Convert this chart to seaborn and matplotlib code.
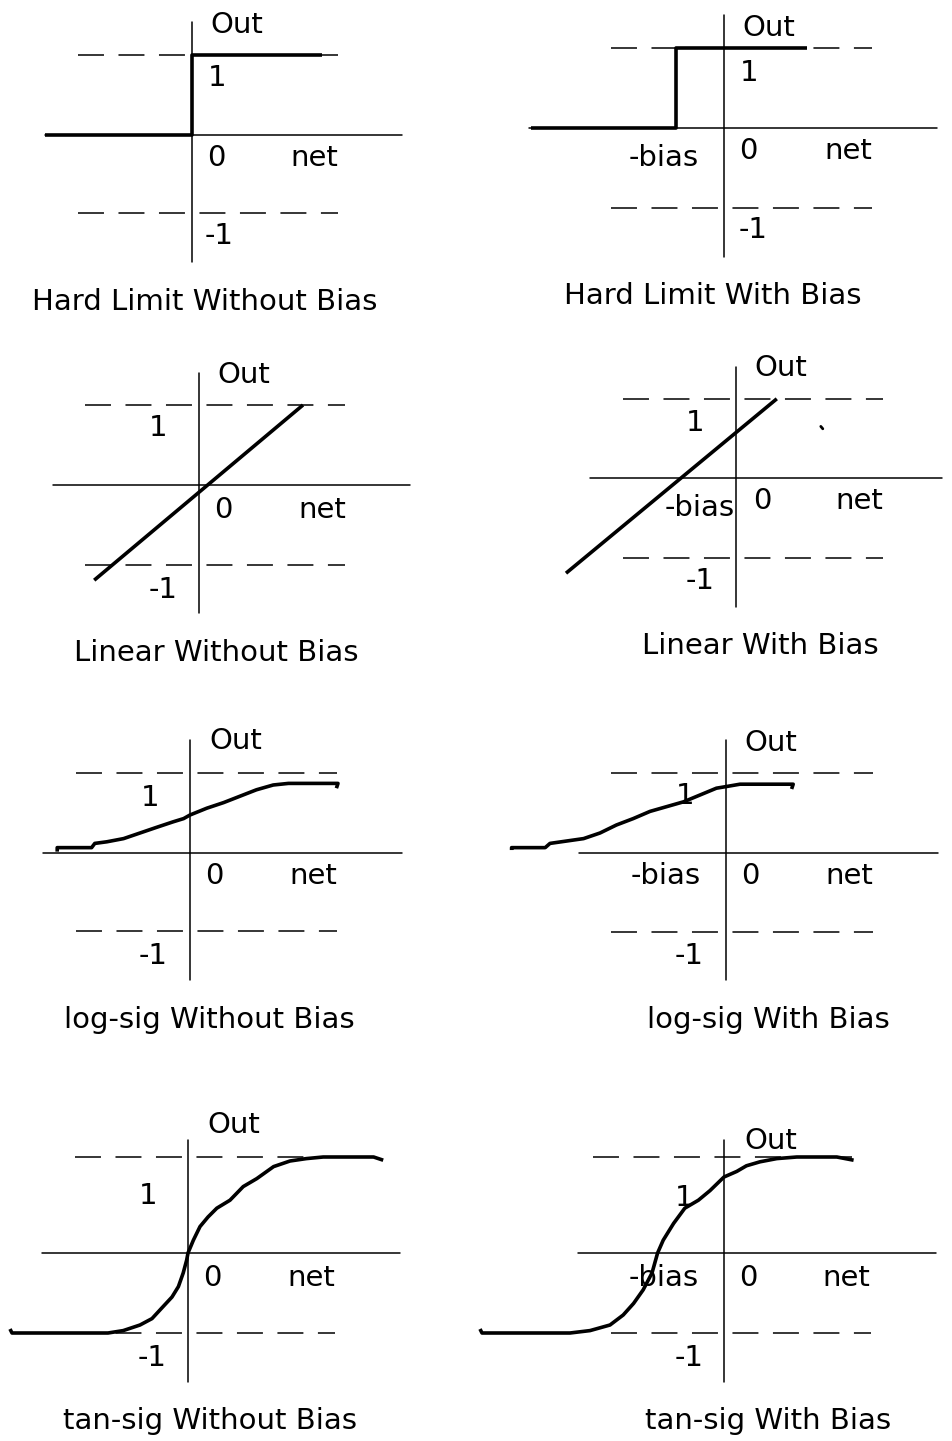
import matplotlib
matplotlib.use("Agg")
import matplotlib.pyplot as plt
import pandas as pd
import seaborn as sns

# ---------------- data (net, out); 1 unit = one output level ----------------
hardlim_net = [-1.84, 0.0, 0.0, 1.625]
hardlim_out = [0.0, 0.0, 1.0, 1.0]

hardlim_bias_net = [-2.41, -0.6, -0.6, 1.04]
hardlim_bias_out = [0.0, 0.0, 1.0, 1.0]

linear_net = [-1.31, 1.30]
linear_out = [-1.19, 1.00]

linear_bias_net = [-2.125, 0.51]
linear_bias_out = [-1.19, 0.99]

logsig_net = [-1.66, -1.66, -1.23, -1.19, -1.04, -0.83, -0.625, -0.42, -0.21,
              -0.08, 0.0, 0.21, 0.42, 0.625, 0.83, 1.04, 1.23, 1.85, 1.83]
logsig_out = [0.017, 0.067, 0.067, 0.12, 0.14, 0.18, 0.25, 0.32, 0.39,
              0.43, 0.475, 0.56, 0.63, 0.71, 0.79, 0.85, 0.87, 0.87, 0.81]

logsig_bias_net = [-2.68, -2.68, -2.26, -2.2, -1.99, -1.78, -1.575, -1.37,
                   -1.16, -0.95, -0.74, -0.53, -0.325, -0.12, 0.0, 0.175,
                   0.84, 0.82]
logsig_bias_out = [0.037, 0.067, 0.067, 0.12, 0.15, 0.18, 0.25, 0.35,
                   0.43, 0.52, 0.58, 0.64, 0.725, 0.81, 0.83, 0.86,
                   0.86, 0.80]

tansig_net = [-2.225, -2.2, -1.0, -0.81, -0.6, -0.45, -0.33, -0.2, -0.12,
              -0.06, -0.017, 0.0, 0.067, 0.15, 0.25, 0.36, 0.525, 0.69,
              0.86, 1.07, 1.275, 1.48, 1.69, 2.32, 2.44]
tansig_out = [-0.95, -1.0, -1.0, -0.97, -0.9, -0.82, -0.69, -0.55, -0.42,
              -0.25, -0.09, 0.0, 0.16, 0.33, 0.45, 0.56, 0.66, 0.83,
              0.93, 1.08, 1.15, 1.18, 1.2, 1.2, 1.16]

tansig_bias_net = [-3.05, -3.025, -1.925, -1.675, -1.425, -1.26, -1.13,
                   -1.01, -0.9, -0.83, -0.76, -0.63, -0.49, -0.32, -0.175,
                   0.0, 0.16, 0.28, 0.45, 0.66, 0.91, 1.41, 1.62]
tansig_bias_out = [-0.95, -1.0, -1.0, -0.97, -0.9, -0.775, -0.63, -0.46,
                   -0.25, 0.0, 0.16, 0.37, 0.56, 0.66, 0.78, 0.95, 1.02,
                   1.09, 1.14, 1.18, 1.2, 1.2, 1.16]

titles = ["Hard Limit Without Bias", "Hard Limit With Bias",
          "Linear Without Bias", "Linear With Bias",
          "log-sig Without Bias", "log-sig With Bias",
          "tan-sig Without Bias", "tan-sig With Bias"]

curves = [(hardlim_net, hardlim_out), (hardlim_bias_net, hardlim_bias_out),
          (linear_net, linear_out), (linear_bias_net, linear_bias_out),
          (logsig_net, logsig_out), (logsig_bias_net, logsig_bias_out),
          (tansig_net, tansig_out), (tansig_bias_net, tansig_bias_out)]

# ---------------- layout (pixel origin, extents, label spots) ----------------
W, H, U = 952, 1441, 80.0
layout = [
    dict(o=(192, 135), hx=(-1.84, 2.62), vy=(-1.59, 1.41), dx=(-1.43, 1.83), dx2=(-1.43, 1.83),
         du=1.0, dl=-0.975, out=(0.5625, 1.41), one=(0.31, 0.75), zero=(0.3, -0.25),
         net=(1.525, -0.25), m1=(0.34, -1.225), bias=None, title=(0.16, -2.05)),
    dict(o=(724, 128), hx=(-2.44, 2.66), vy=(-1.61, 1.41), dx=(-1.41, 1.85), dx2=(-1.41, 1.85),
         du=1.0, dl=-1.0, out=(0.5625, 1.29), one=(0.31, 0.725), zero=(0.31, -0.25),
         net=(1.55, -0.25), m1=(0.36, -1.24), bias=(-0.75, -0.34), title=(-0.14, -2.06)),
    dict(o=(199, 485), hx=(-1.83, 2.64), vy=(-1.6, 1.4), dx=(-1.43, 1.83), dx2=(-1.43, 1.83),
         du=1.0, dl=-1.0, out=(0.5625, 1.41), one=(-0.51, 0.75), zero=(0.3, -0.275),
         net=(1.54, -0.275), m1=(-0.45, -1.275), bias=None, title=(0.21, -2.06)),
    dict(o=(736, 478), hx=(-1.83, 2.57), vy=(-1.61, 1.39), dx=(-1.41, 1.84), dx2=(-1.41, 1.84),
         du=0.99, dl=-1.0, out=(0.5625, 1.41), one=(-0.51, 0.725), zero=(0.325, -0.25),
         net=(1.54, -0.25), m1=(-0.45, -1.25), bias=(-0.45, -0.34), title=(0.3, -2.06)),
    dict(o=(190, 853), hx=(-1.84, 2.65), vy=(-1.59, 1.41), dx=(-1.43, 1.84), dx2=(-1.43, 1.84),
         du=1.0, dl=-0.975, out=(0.575, 1.44), one=(-0.5, 0.725), zero=(0.31, -0.25),
         net=(1.54, -0.25), m1=(-0.46, -1.25), bias=None, title=(0.24, -2.05)),
    dict(o=(726, 853), hx=(-1.84, 2.65), vy=(-1.59, 1.41), dx=(-1.44, 1.84), dx2=(-1.44, 1.84),
         du=1.0, dl=-0.985, out=(0.5625, 1.41), one=(-0.51, 0.75), zero=(0.3, -0.25),
         net=(1.54, -0.25), m1=(-0.46, -1.25), bias=(-0.76, -0.25), title=(0.525, -2.05)),
    dict(o=(188, 1253), hx=(-1.825, 2.65), vy=(-1.61, 1.41), dx=(-1.41, 1.83), dx2=(-1.41, 1.84),
         du=1.2, dl=-1.0, out=(0.575, 1.64), one=(-0.5, 0.75), zero=(0.31, -0.275),
         net=(1.54, -0.275), m1=(-0.45, -1.275), bias=None, title=(0.275, -2.06)),
    dict(o=(724, 1253), hx=(-1.825, 2.65), vy=(-1.61, 1.41), dx=(-1.64, 1.6), dx2=(-1.41, 1.84),
         du=1.2, dl=-1.0, out=(0.59, 1.44), one=(-0.5, 0.725), zero=(0.3, -0.275),
         net=(1.525, -0.275), m1=(-0.44, -1.275), bias=(-0.75, -0.275), title=(0.55, -2.06)),
]

sns.set_theme(style="white")
plt.rcParams["font.family"] = ["DejaVu Sans"]

fig = plt.figure(figsize=(W / 100, H / 100), dpi=100)
fig.patch.set_facecolor("white")

FS = 21
TXT_SHIFT = 11 / U  # baseline below centre of capital letters
AX_LW = 1.1
CURVE_LW = 2.6
DASH = (0, (17, 9.5))

for (net, out), lay, title in zip(curves, layout, titles):
    ox, oy = lay["o"]
    ax = fig.add_axes([0, 0, 1, 1])
    ax.set_xlim(-ox / U, (W - ox) / U)
    ax.set_ylim((oy - H) / U, oy / U)
    ax.axis("off")
    ax.patch.set_alpha(0)

    # axes lines
    ax.plot(lay["hx"], [0, 0], color="black", lw=AX_LW)
    ax.plot([0, 0], lay["vy"], color="black", lw=AX_LW)
    # dashed output levels
    ax.plot(lay["dx"], [lay["du"]] * 2, color="black", lw=AX_LW, linestyle=DASH)
    ax.plot(lay["dx2"], [lay["dl"]] * 2, color="black", lw=AX_LW, linestyle=DASH)

    df = pd.DataFrame({"net": net, "out": out})
    sns.lineplot(data=df, x="net", y="out", sort=False, estimator=None,
                 color="black", lw=CURVE_LW, ax=ax, legend=False,
                 solid_capstyle="butt", solid_joinstyle="round")

    def put(key, s):
        x, y = lay[key]
        ax.text(x, y - TXT_SHIFT, s, ha="center", va="baseline", fontsize=FS,
                color="black")

    put("out", "Out")
    put("one", "1")
    put("zero", "0")
    put("net", "net")
    put("m1", "-1")
    if lay["bias"] is not None:
        put("bias", "-bias")
    put("title", title)
    ax.set_xlabel("")
    ax.set_ylabel("")

# small stray mark in the "Linear With Bias" panel
ax_lb = fig.axes[3]
ax_lb.plot([1.06, 1.085], [0.645, 0.615], color="black", lw=2.0)

fig.savefig("out.png", dpi=100, facecolor="white")
